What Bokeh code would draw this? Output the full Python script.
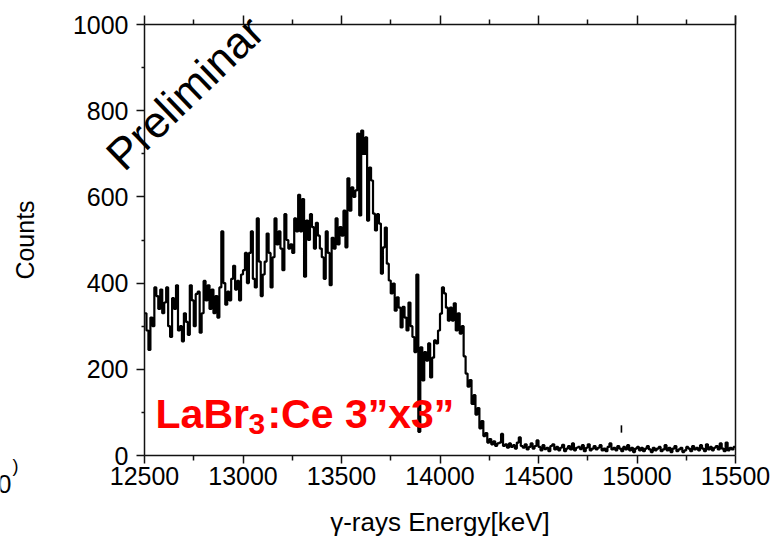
from bokeh.plotting import figure
from bokeh.models import FixedTicker, LinearAxis, Label
from bokeh.embed import file_html
from bokeh.resources import INLINE

# Gamma-ray spectrum of a LaBr3:Ce 3"x3" detector, 10 keV bins from 12500 keV
bin_start = 12500
bin_width = 10
counts = [
    330, 290, 245, 320, 300, 390, 370, 340, 385, 330,   # 12500
    355, 390, 300, 275, 365, 340, 395, 290, 300, 265,   # 12600
    330, 310, 280, 395, 360, 300, 375, 380, 285, 330,   # 12700
    405, 360, 395, 340, 385, 330, 370, 320, 390, 520,   # 12800
    400, 350, 380, 360, 410, 440, 385, 405, 360, 420,   # 12900
    430, 470, 400, 470, 520, 410, 390, 550, 450, 370,   # 13000
    420, 450, 515, 470, 390, 460, 550, 490, 520, 480,   # 13100
    430, 560, 500, 480, 490, 470, 550, 520, 605, 520,   # 13200
    595, 415, 545, 500, 560, 530, 480, 540, 510, 480,   # 13300
    460, 410, 520, 470, 395, 505, 480, 550, 490, 530,   # 13400
    510, 568, 483, 643, 568, 622, 600, 615, 747, 557,   # 13500
    754, 700, 738, 545, 668, 638, 561, 522, 560, 538,   # 13600
    422, 483, 529, 445, 406, 376, 399, 336, 367, 343,   # 13700
    297, 345, 320, 290, 355, 300, 275, 240, 420, 55,    # 13800
    251, 174, 240, 220, 260, 181, 227, 267, 260, 290,   # 13900
    329, 390, 376, 343, 313, 343, 313, 353, 290, 330,   # 14000
    283, 300, 230, 190, 160, 175, 120, 140, 95, 110,    # 14100
    63, 80, 45, 52, 30, 38, 26, 33, 22, 28,             # 14200
    30, 50, 22, 26, 18, 28, 20, 24, 16, 30,             # 14300
    42, 22, 18, 26, 14, 20, 28, 16, 22, 35,             # 14400
    20, 12, 24, 15, 18, 10, 22, 26, 14, 20,             # 14500
    12, 18, 25, 10, 16, 22, 14, 28, 12, 18,             # 14600
    20, 15, 24, 10, 18, 26, 12, 16, 22, 14,             # 14700
    18, 24, 12, 16, 10, 20, 28, 14, 18, 12,             # 14800
    22, 16, 10, 20, 14, 24, 12, 18, 8, 16,              # 14900
    20, 12, 18, 10, 16, 22, 14, 8, 18, 12,              # 15000
    16, 20, 10, 14, 24, 12, 18, 8, 16, 22,              # 15100
    10, 14, 18, 8, 12, 20, 16, 10, 22, 14,              # 15200
    18, 12, 24, 16, 10, 26, 14, 20, 12, 18,             # 15300
    22, 14, 28, 16, 10, 30, 12, 18, 14, 20,             # 15400
]

# isolated marker above the tail
stray_energy = [14921]
stray_low = [53]
stray_high = [70]

x_min, x_max = 12500, 15500
y_min, y_max = 0, 1000
x_ticks = [12500, 13000, 13500, 14000, 14500, 15000, 15500]
x_minor = [12750, 13250, 13750, 14250, 14750, 15250]
y_ticks = [0, 200, 400, 600, 800, 1000]
y_minor = [100, 300, 500, 700, 900]

edges = [bin_start + i * bin_width for i in range(len(counts) + 1)]
step_y = counts + [counts[-1]]

FONT = "Liberation Sans"

# The drawing area fills the whole canvas; the axes sit at fixed data
# positions so the plot box spans 144..735 px across and 24..455 px down.
W, H = 777, 538
box_left, box_right, box_top, box_bottom = 144, 735, 24, 455
kev_per_px = (x_max - x_min) / (box_right - box_left)
cnt_per_px = (y_max - y_min) / (box_bottom - box_top)
x_range = (x_min - box_left * kev_per_px, x_max + (W - box_right) * kev_per_px)
y_range = (y_min - (H - box_bottom) * cnt_per_px, y_max + box_top * cnt_per_px)

p = figure(width=W, height=H, x_range=x_range, y_range=y_range,
           output_backend="svg", toolbar_location=None, title=None,
           x_axis_type=None, y_axis_type=None,
           min_border=0, min_border_left=0, min_border_right=0,
           min_border_top=0, min_border_bottom=0,
           background_fill_color="white", border_fill_color="white")
p.grid.visible = False
p.outline_line_color = None

p.step(x=edges, y=step_y, mode="after", line_color="black", line_width=2.2)
p.segment(x0=stray_energy, y0=stray_low, x1=stray_energy, y1=stray_high,
          line_color="black", line_width=1.6)


def make_axis(ticks, minor, loc, bounds, tick_out, minor_out):
    ax = LinearAxis(ticker=FixedTicker(ticks=ticks, minor_ticks=minor),
                    fixed_location=loc, bounds=bounds)
    ax.axis_line_color = "#111111"
    ax.axis_line_width = 1.5
    ax.major_tick_line_color = "#111111"
    ax.major_tick_line_width = 1.5
    ax.minor_tick_line_color = "#111111"
    ax.minor_tick_line_width = 1.5
    ax.major_tick_in = 0
    ax.minor_tick_in = 0
    ax.major_tick_out = tick_out
    ax.minor_tick_out = minor_out
    ax.major_label_text_font = FONT
    ax.major_label_text_font_size = "25px"
    ax.major_label_text_color = "black"
    ax.axis_label_text_font = FONT
    ax.axis_label_text_font_style = "normal"
    ax.axis_label_text_font_size = "25px"
    ax.axis_label_text_color = "black"
    return ax


xax = make_axis(x_ticks, x_minor, y_min, (x_min, x_max), 8, 5)
xax.major_label_standoff = 3
xax.axis_label = "γ-rays Energy[keV]"
xax.axis_label_text_font_size = "26px"
xax.axis_label_standoff = 19
p.add_layout(xax, "below")

yax = make_axis(y_ticks, y_minor, x_min, (y_min, y_max), 8, 3)
yax.major_label_standoff = 8
yax.axis_label = "Counts"
yax.axis_label_standoff = 31
p.add_layout(yax, "left")

# tick marks along the top edge, no labels
top = make_axis(x_ticks, x_minor, y_max, (x_min, x_max), 9, 5)
top.major_label_overrides = {t: "" for t in x_ticks}
top.major_label_text_font_size = "1px"
top.major_label_standoff = 0
p.add_layout(top, "above")

# plain right edge of the box
right = make_axis([], [], x_max, (y_min, y_max + 20), 0, 0)
p.add_layout(right, "right")

# watermark
p.add_layout(Label(x=12343, y=682, text="Preliminar", angle=44, angle_units="deg",
                   text_font=FONT, text_font_size="44px", text_color="black",
                   text_align="left", text_baseline="alphabetic"))

# detector caption with subscript
cap = dict(text_font=FONT, text_font_style="bold", text_color="#ff0000",
           text_align="left", text_baseline="alphabetic")
p.add_layout(Label(x=12556, y=97, text="LaBr", text_font_size="41px", **cap))
p.add_layout(Label(x=13028, y=72, text="3", text_font_size="30px", **cap))
p.add_layout(Label(x=13124, y=97, text=":Ce 3”x3”", text_font_size="41px", **cap))

# fragments of a neighbouring panel at the left edge
p.add_layout(Label(x=11825, y=-67, text="0", text_font=FONT, text_font_size="25px",
                   text_color="black", text_align="right", text_baseline="alphabetic"))
p.add_layout(Label(x=11860, y=-24, text=")", text_font=FONT, text_font_size="18px",
                   text_color="black", text_align="right", text_baseline="alphabetic"))

open("out.html", "w").write(file_html(p, INLINE))
